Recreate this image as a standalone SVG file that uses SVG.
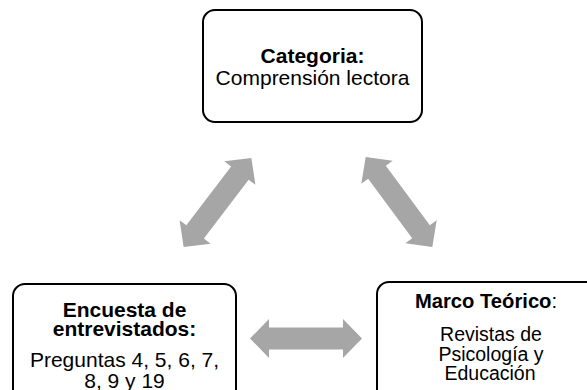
<svg xmlns="http://www.w3.org/2000/svg" width="587" height="390" viewBox="0 0 587 390">
<defs>
<style>
.box{fill:#fff;stroke:#000;stroke-width:2}
.t{font-family:"Liberation Sans",Arial,sans-serif;font-size:21px;fill:#000;text-anchor:middle}
.s{font-size:19.5px}
.m{font-size:20.2px}
.b{font-weight:bold}
.arr{fill:#A6A6A6}
</style>
<path id="dbl" d="M-56 0 L-37 -19.5 L-37 -11 L37 -11 L37 -19.5 L56 0 L37 19.5 L37 11 L-37 11 L-37 19.5 Z"/>
</defs>
<rect width="587" height="390" fill="#fff"/>
<g id="connectors" class="arr">
<use href="#dbl" transform="translate(217.5 202.5) rotate(-52.8)"/>
<use href="#dbl" transform="translate(399 202) rotate(53.5)"/>
<use href="#dbl" transform="translate(306 338.5)"/>
</g>
<g id="node-categoria">
<rect class="box" x="203" y="10" width="219" height="112" rx="12"/>
<text class="t b" x="312.5" y="63">Categoria:</text>
<text class="t" x="312.5" y="85">Comprensión lectora</text>
</g>
<g id="node-encuesta">
<rect class="box" x="13" y="284" width="223" height="125" rx="12"/>
<text class="t b" x="124.5" y="317">Encuesta de</text>
<text class="t b" x="124.5" y="336">entrevistados:</text>
<text class="t" x="124.5" y="366.5">Preguntas 4, 5, 6, 7,</text>
<text class="t" x="124.5" y="388">8, 9 y 19</text>
</g>
<g id="node-marco">
<rect class="box" x="377" y="282" width="222" height="125" rx="12"/>
<text class="t b m" x="486" y="308">Marco Teórico<tspan font-weight="normal">:</tspan></text>
<text class="t s" x="491" y="341">Revistas de</text>
<text class="t s" x="491" y="361">Psicología y</text>
<text class="t s" x="490" y="380">Educación</text>
</g>
</svg>
